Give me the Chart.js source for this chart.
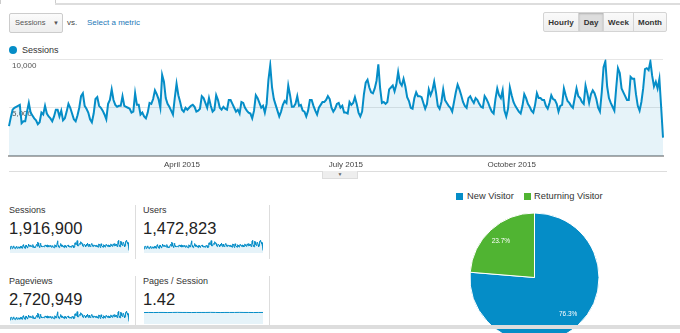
<!DOCTYPE html>
<html>
<head>
<meta charset="utf-8">
<script src="https://cdn.jsdelivr.net/npm/chart.js@4.4.1/dist/chart.umd.min.js"></script>
<style>
  html, body { margin: 0; padding: 0; width: 680px; height: 333px; overflow: hidden; background: #fff; }
  body { position: relative; font-family: "Liberation Sans", Arial, sans-serif; color: #333; }
  .abs { position: absolute; white-space: nowrap; }
  canvas { position: absolute; }
  .btn { position: absolute; top: 12px; height: 20px; line-height: 20px; text-align: center; font-size: 8px; font-weight: bold; color: #333;
         background: linear-gradient(#fafafa, #eee); border: 1px solid #d4d4d4; box-sizing: border-box; }
  .btn.on { background: #ddd; box-shadow: inset 0 1px 2px rgba(0,0,0,0.2); }
  .lbl { font-size: 9px; color: #333; }
  .val { font-size: 16.5px; color: #222; }
  .vdiv { position: absolute; width: 1px; background: #ddd; }
</style>
</head>
<body>
<!-- top tab strip -->
<div class="abs" style="left:0;top:0;width:54px;height:4px;border-right:1px solid #ccc;border-left:1px solid #ccc;"></div>
<div class="abs" style="left:55px;top:3px;width:625px;height:2px;background:#ddd;"></div>

<!-- metric picker -->
<div class="abs" style="left:9px;top:13px;width:54px;height:20px;box-sizing:border-box;border:1px solid #ccc;border-radius:2px;background:linear-gradient(#fbfbfb,#eee);font-size:7.5px;line-height:18px;color:#555;padding-left:5px;">Sessions<span style="position:absolute;left:43px;font-size:6px;">&#9660;</span></div>
<div class="abs" style="left:67px;top:18px;font-size:8px;color:#444;">vs.</div>
<div class="abs" style="left:87px;top:18px;font-size:8px;color:#2479b8;">Select a metric</div>

<!-- granularity buttons -->
<div class="btn" style="left:543px;width:36px;border-radius:2px 0 0 2px;">Hourly</div>
<div class="btn on" style="left:578px;width:26px;">Day</div>
<div class="btn" style="left:603px;width:31px;">Week</div>
<div class="btn" style="left:633px;width:34px;border-radius:0 2px 2px 0;">Month</div>

<!-- legend -->
<div class="abs" style="left:9px;top:46px;width:8px;height:8px;border-radius:50%;background:#058dc7;"></div>
<div class="abs" style="left:22px;top:45px;font-size:9px;color:#333;">Sessions</div>

<canvas id="mainChart" width="662" height="122" style="left:5px;top:50px;"></canvas>

<!-- drawer handle -->
<div class="abs" style="left:9px;top:171px;width:658px;height:1px;background:#ddd;"></div>
<div class="abs" style="left:322px;top:171px;width:34px;height:7px;background:#eee;border:1px solid #ddd;border-top:none;font-size:5px;line-height:6px;text-align:center;color:#666;">&#9660;</div>

<!-- scorecards -->
<div class="abs lbl" style="left:9px;top:205px;">Sessions</div>
<div class="abs val" style="left:9px;top:219px;">1,916,900</div>
<canvas id="sparkSessions" width="119" height="14" style="left:10px;top:239px;"></canvas>
<div class="vdiv" style="left:135px;top:205px;height:54px;"></div>

<div class="abs lbl" style="left:143px;top:205px;">Users</div>
<div class="abs val" style="left:143px;top:219px;">1,472,823</div>
<canvas id="sparkUsers" width="119" height="14" style="left:144px;top:239px;"></canvas>
<div class="vdiv" style="left:269px;top:205px;height:54px;"></div>

<div class="abs lbl" style="left:9px;top:276px;">Pageviews</div>
<div class="abs val" style="left:9px;top:290px;">2,720,949</div>
<canvas id="sparkPageviews" width="119" height="14" style="left:10px;top:310px;"></canvas>
<div class="vdiv" style="left:135px;top:276px;height:50px;"></div>

<div class="abs lbl" style="left:143px;top:276px;">Pages / Session</div>
<div class="abs val" style="left:143px;top:290px;">1.42</div>
<canvas id="sparkPages" width="119" height="14" style="left:144px;top:310px;"></canvas>
<div class="vdiv" style="left:269px;top:276px;height:50px;"></div>

<!-- pie legend -->
<div class="abs" style="left:456px;top:193px;width:7px;height:7px;background:#058dc7;"></div>
<div class="abs" style="left:467px;top:191px;font-size:9.3px;color:#333;">New Visitor</div>
<div class="abs" style="left:524px;top:193px;width:7px;height:7px;background:#50b432;"></div>
<div class="abs" style="left:534px;top:191px;font-size:9.3px;color:#333;">Returning Visitor</div>

<canvas id="pieChart" width="133" height="133" style="left:468px;top:211px;"></canvas>

<div class="abs" style="left:0;top:325px;width:680px;height:4px;background:#ddd;"></div>

<script>
// Daily sessions (first day 2014-12-26)
const startDay = Date.UTC(2014, 11, 26);
const sessions = [
  3100, 4000, 4800, 5000, 5100, 5200, 5300, 3400, 3600, 3600,
  4600, 5500, 4500, 4200, 3900, 3700, 3300, 3500, 4500, 4300,
  5200, 4400, 4100, 3900, 3600, 4100, 4800, 4800, 4100, 4700,
  3700, 3900, 4600, 5400, 5000, 4400, 3800, 3600, 4200, 5000,
  6200, 6500, 5200, 4900, 4500, 3800, 3500, 4400, 5900, 6100,
  5200, 5000, 4700, 4300, 3800, 5400, 5800, 6900, 5800, 5300,
  5100,
  5200, 5200, 6200, 5200, 5100, 5000, 4900, 4500, 4600, 6500,
  5300, 5300, 4300, 4500, 4100, 3900, 4500, 5500, 5400, 5900,
  6800, 6400, 5900, 5000, 8400, 7700, 6000, 5400, 5100, 4700,
  4300, 6000, 7500, 6300, 5600, 4800, 4600, 5000, 4800, 5000,
  5200, 5300, 5100, 4600, 4700, 4900, 6200, 6000, 5500, 5000,
  6000, 5200, 4600, 4800, 6300, 5800, 5000, 4800, 5100, 4900,
  4800, 5800, 5800, 5400, 5000, 4600, 4800, 4400, 5600, 5500,
  5000, 4700, 4500, 4400, 3900, 4700, 6300, 6000, 5500, 5000,
  5200, 4500, 5400, 7900, 9400, 7100, 5900, 5300, 4700, 4100,
  4600, 5300, 5700, 5500, 7300, 6300, 5100, 5100, 5400, 6200,
  5200, 5300, 4700, 4600, 4100, 4700, 5800, 5800, 5200, 4700,
  4300, 5000, 5300, 5600, 5600, 5800, 6200, 5900, 5000, 4600,
  4900,
  5400, 5500, 5000, 5200, 4500, 4500, 4400, 5600, 5300, 5500,
  6100, 5400, 4500, 4100, 4600, 6400, 7600, 7900, 7100, 6600,
  6500, 7000, 7800, 9500, 7000, 5500, 5600, 5400, 5600, 6900,
  7100, 7300, 6700, 7400, 8700, 7600, 7300, 8000, 7200, 6100,
  5700, 5000, 4900, 6000, 6600, 6200, 6200, 6100, 5500, 4900,
  5400, 6900, 6300, 6800, 7700, 6600, 5200, 4900, 5600, 6900,
  5800,
  5500, 5200, 5000, 4600, 5600, 6600, 7400, 6900, 6300, 5600,
  5200, 5000, 6000, 6200, 5800, 5500, 6000, 5800, 5400, 5100,
  5000, 6200, 5900, 5500, 5000, 4600, 4400, 5900, 7000, 6300,
  6000, 6800, 4700, 4100, 4900, 7100, 6300, 5600, 5200, 4900,
  4600, 4400, 5200, 6400, 6000, 5400, 5100, 4700, 4500, 5300,
  6500, 6000, 6000, 5800, 5800, 5200, 4900, 5500, 6300, 5900,
  5800,
  5400, 4600, 5200, 5300, 7000, 6300, 5700, 5500, 5200, 5000,
  6000, 7000, 6200, 6000, 5600, 5400, 7300, 6500, 5500, 6400,
  6800, 6500, 5900, 5000, 4600, 6600, 9200, 9800, 7200, 6000,
  5500, 5100, 4700, 7000, 9100, 8600, 7000, 6600, 6200, 5800,
  5800, 8200, 8000, 8000, 6400, 5200, 4700, 5600, 7000, 9000,
  9100, 8900, 9800, 8300, 7200, 7700, 7000, 8000, 5000, 1900
];
const monthTicks = ['April 2015', 'July 2015', 'October 2015'];
const yTicks = [5000, 10000];

// pages per session sparkline (nearly flat)
const pagesPerSession = [1.41, 1.42, 1.41, 1.42, 1.42, 1.41, 1.42, 1.43, 1.42, 1.42, 1.41, 1.42, 1.42,
                         1.42, 1.43, 1.42, 1.41, 1.42, 1.42, 1.42, 1.43, 1.42, 1.42, 1.41, 1.42, 1.42];

// visitor type split
const visitorTypes = ['New Visitor', 'Returning Visitor'];
const visitorShare = [76.3, 23.7];

const GA_BLUE = '#058dc7';
const GA_FILL = 'rgba(5,141,199,0.1)';
const FONT = '"Liberation Sans", Arial, sans-serif';

const monthNames = ['January', 'February', 'March', 'April', 'May', 'June', 'July',
                    'August', 'September', 'October', 'November', 'December'];
const dayLabels = sessions.map((_, i) => {
  const d = new Date(startDay + i * 86400000);
  return d.getUTCDate() === 1 ? monthNames[d.getUTCMonth()] + ' ' + d.getUTCFullYear() : '';
});

new Chart(document.getElementById('mainChart'), {
  type: 'line',
  data: {
    labels: dayLabels,
    datasets: [{
      data: sessions,
      borderColor: GA_BLUE,
      backgroundColor: GA_FILL,
      fill: true,
      borderWidth: 2,
      pointRadius: 0,
      tension: 0
    }]
  },
  options: {
    responsive: false,
    animation: false,
    devicePixelRatio: 1,
    layout: { padding: { top: 9.5, left: 0, right: 1, bottom: 0 } },
    plugins: { legend: { display: false }, tooltip: { enabled: false } },
    scales: {
      x: {
        afterFit: s => { s.height = 16; },
        grid: { display: false, drawTicks: false },
        border: { color: '#aaa', width: 2 },
        ticks: {
          autoSkip: false, maxRotation: 0, padding: 4,
          font: { family: FONT, size: 8 }, color: '#444',
          callback: function (v) {
            const l = this.getLabelForValue(v);
            return monthTicks.includes(l) ? l : '';
          }
        }
      },
      y: {
        min: 0, max: 10000,
        afterFit: s => { s.width = 0; },
        afterBuildTicks: s => { s.ticks = [0].concat(yTicks).map(v => ({ value: v })); },
        border: { display: false },
        grid: { drawTicks: false, color: c => c.tick.value === 0 ? 'rgba(0,0,0,0)' : '#e6e6e6', borderDash: [1, 1] },
        ticks: {
          mirror: true, padding: 3, labelOffset: 6,
          font: { family: FONT, size: 8 }, color: '#555',
          callback: v => v === 0 ? '' : v.toLocaleString('en-US')
        }
      }
    }
  }
});

function sparkline(id, values, min, max, width) {
  new Chart(document.getElementById(id), {
    type: 'line',
    data: {
      labels: values.map((_, i) => i),
      datasets: [{
        data: values, borderColor: GA_BLUE, backgroundColor: GA_FILL, fill: true,
        borderWidth: width, pointRadius: 0, tension: 0
      }]
    },
    options: {
      responsive: false, animation: false, devicePixelRatio: 1,
      layout: { padding: { top: 1 } },
      plugins: { legend: { display: false }, tooltip: { enabled: false } },
      scales: { x: { display: false }, y: { display: false, min: min, max: max } }
    }
  });
}
// the three volume cards share the same daily shape in the reference
sparkline('sparkSessions', sessions, 0, 10000, 1);
sparkline('sparkUsers', sessions, 0, 10000, 1);
sparkline('sparkPageviews', sessions, 0, 10000, 1);
sparkline('sparkPages', pagesPerSession, 0, 1.6, 1);

const pieLabels = {
  id: 'pieLabels',
  afterDatasetsDraw(chart) {
    const ctx = chart.ctx;
    const meta = chart.getDatasetMeta(0);
    ctx.save();
    ctx.fillStyle = '#fff';
    ctx.font = '6.5px ' + FONT;
    ctx.textAlign = 'center';
    ctx.textBaseline = 'middle';
    meta.data.forEach((arc, i) => {
      const mid = (arc.startAngle + arc.endAngle) / 2;
      const r = arc.outerRadius * 0.77;
      ctx.fillText(chart.data.datasets[0].data[i].toFixed(1) + '%', arc.x + Math.cos(mid) * r, arc.y + Math.sin(mid) * r);
    });
    ctx.restore();
  }
};

new Chart(document.getElementById('pieChart'), {
  type: 'pie',
  data: {
    labels: visitorTypes,
    datasets: [{
      data: visitorShare,
      backgroundColor: [GA_BLUE, '#50b432'],
      borderColor: '#fff',
      borderWidth: 1
    }]
  },
  options: {
    responsive: false, animation: false, devicePixelRatio: 1,
    layout: { padding: 1.5 },
    plugins: { legend: { display: false }, tooltip: { enabled: false } }
  },
  plugins: [pieLabels]
});
</script>
</body>
</html>
